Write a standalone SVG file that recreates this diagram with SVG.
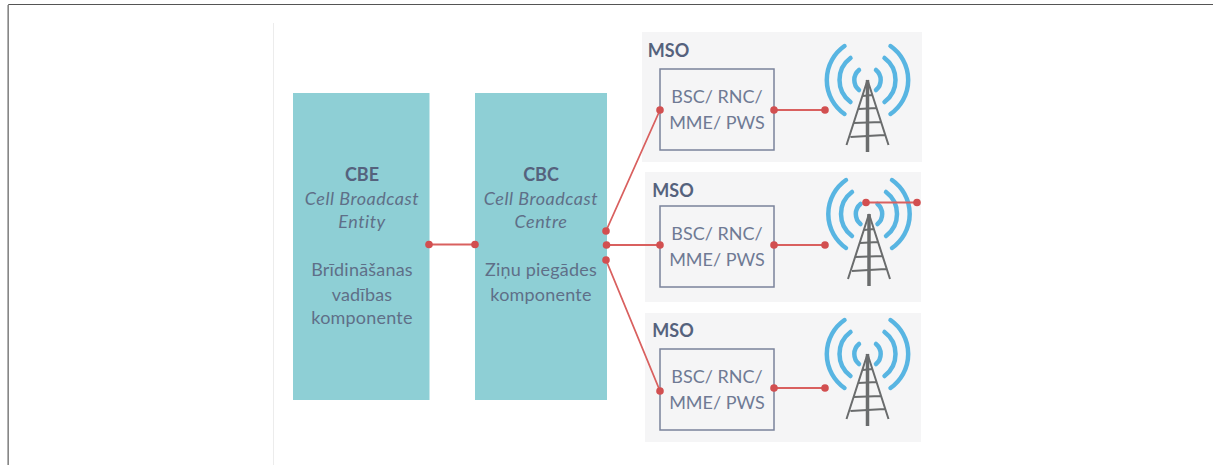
<svg xmlns="http://www.w3.org/2000/svg" width="1213" height="465" viewBox="0 0 1213 465">
<style>
.t{font-family:Lato,"Open Sans","Liberation Sans",sans-serif;font-size:18px;letter-spacing:.2px;fill:#5f6f88;text-anchor:middle}
.i{font-style:italic;letter-spacing:.5px}
.b{font-weight:700;fill:#55627d;letter-spacing:0}
.tb{font-family:Lato,"Open Sans","Liberation Sans",sans-serif;font-size:18px;fill:#6f7a94;text-anchor:middle}
.col{fill:#8ecfd5}
.pan{fill:#f5f5f6}
.box{fill:#f5f5f6;stroke:#7a829b;stroke-width:1.500}
.c{stroke:#d9605f;stroke-width:1.800;fill:none}
.d{fill:#d24f50}
.arc{fill:none;stroke:#58b5e2;stroke-width:4.500;stroke-linecap:round}
.tw{fill:none;stroke:#6a6c6d;stroke-width:2}
</style>
<defs>
<g id="tower">
<path class="arc" d="M-8.500 -10A13 13 0 0 0 -8.500 10M8.500 -10A13 13 0 0 1 8.500 10M-17 -22A27.500 27.500 0 0 0 -17 22M17 -22A27.500 27.500 0 0 1 17 22M-23 -34A41.500 41.500 0 0 0 -23 34M23 -34A41.500 41.500 0 0 1 23 34"/>
<path class="tw" d="M0 0L-21 65M0 0L21 65M-5 16L5 15M-9 29L9 28M-14 43L14 42M-17 57L17 55"/>
<path d="M0 0V72" fill="none" stroke="#6a6c6d" stroke-width="3.500"/>
</g>
</defs>
<rect width="1213" height="465" fill="#fff"/>
<path d="M8.500 465V4.500H1213" fill="none" stroke="#555" stroke-width="1"/>
<path d="M8 5V465" stroke="#999" stroke-width="1.500" fill="none"/>
<path d="M273.500 23V465" stroke="#ececec" stroke-width="1" fill="none"/>
<g id="cbe">
<rect class="col" x="293" y="93" width="136.500" height="307"/>
<text class="t b" x="362" y="181">CBE</text>
<text class="t i" x="362" y="205">Cell Broadcast</text>
<text class="t i" x="362" y="228">Entity</text>
<text class="t" x="362" y="276">Brīdināšanas</text>
<text class="t" x="362" y="301">vadības</text>
<text class="t" x="362" y="324">komponente</text>
</g>
<g id="cbc">
<rect class="col" x="475" y="93" width="132" height="307"/>
<text class="t b" x="541" y="181">CBC</text>
<text class="t i" x="541" y="205">Cell Broadcast</text>
<text class="t i" x="541" y="228">Centre</text>
<text class="t" x="541" y="276">Ziņu piegādes</text>
<text class="t" x="541" y="301">komponente</text>
</g>
<g id="mso1">
<rect class="pan" x="642" y="32" width="280" height="130"/>
<text class="t b" x="668.500" y="57">MSO</text>
<rect class="box" x="660" y="69" width="114" height="81"/>
<text class="tb" x="717" y="103">BSC/ RNC/</text>
<text class="tb" x="717" y="129">MME/ PWS</text>
<use href="#tower" x="867.500" y="80"/>
</g>
<g id="mso2">
<rect class="pan" x="645" y="172" width="276" height="130"/>
<text class="t b" x="673" y="197">MSO</text>
<rect class="box" x="660" y="206" width="114" height="81"/>
<text class="tb" x="717" y="240">BSC/ RNC/</text>
<text class="tb" x="717" y="266">MME/ PWS</text>
<use href="#tower" x="869" y="214"/>
</g>
<g id="mso3">
<rect class="pan" x="645" y="313" width="276" height="129"/>
<text class="t b" x="673" y="337">MSO</text>
<rect class="box" x="660" y="349" width="114" height="81"/>
<text class="tb" x="717" y="383">BSC/ RNC/</text>
<text class="tb" x="717" y="409">MME/ PWS</text>
<use href="#tower" x="867.500" y="354"/>
</g>
<g id="connectors">
<path class="c" d="M429 244.500H475M606 231L660 110M606 245H660M606 260L660 391M774 110H825M774 245H825M774 388H825M866 202.500H917"/>
<g class="d">
<circle cx="429" cy="244.500" r="3.800"/><circle cx="475" cy="244.500" r="3.800"/>
<circle cx="606" cy="231" r="3.800"/><circle cx="606.500" cy="245" r="3.800"/><circle cx="606" cy="260" r="3.800"/>
<circle cx="660" cy="110" r="3.800"/><circle cx="660" cy="245" r="3.800"/><circle cx="660" cy="391" r="3.800"/>
<circle cx="774" cy="110" r="3.800"/><circle cx="825" cy="110" r="3.800"/>
<circle cx="774" cy="245" r="3.800"/><circle cx="825" cy="245" r="3.800"/>
<circle cx="774" cy="388" r="3.800"/><circle cx="825" cy="388" r="3.800"/>
<circle cx="866" cy="202.500" r="3.800"/><circle cx="917" cy="202.500" r="3.800"/>
</g>
</g>
</svg>
